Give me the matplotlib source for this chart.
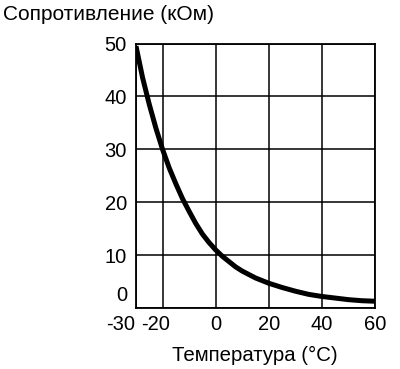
import numpy as np
import matplotlib.pyplot as plt
import matplotlib.transforms as mtransforms

# temperature (C) and resistance (kOhm)
temp = [-30, -27.5, -25, -22.5, -20, -17.5, -15, -12.5, -10, -7.5, -5, -2.5, 0, 2.5, 5, 7.5, 10,
        15, 20, 25, 30, 35, 40, 45, 50, 55, 60]
res = [49.5, 43.5, 38.5, 34.0, 30.0, 26.5, 23.5, 20.7, 18.3, 16.0, 14.0, 12.4, 11.0, 9.8, 8.8, 7.8, 7.0,
       5.7, 4.7, 3.9, 3.2, 2.6, 2.2, 1.9, 1.6, 1.4, 1.3]

xticks = [-30, -20, 0, 20, 40, 60]
yticks = [0, 10, 20, 30, 40, 50]

plt.rcParams['font.family'] = ['Liberation Sans', 'DejaVu Sans']

fig = plt.figure(figsize=(4.0, 3.69), dpi=100)
ax = fig.add_axes([0.34, 0.165, 0.5975, 0.717])

ax.plot(temp, res, color='black', lw=3.6, solid_capstyle='butt', solid_joinstyle='round')

ax.set_xlim(-30, 60)
ax.set_ylim(0, 50)
ax.set_xticks(xticks)
ax.set_yticks(yticks)
ax.set_xticklabels([str(v) for v in xticks], fontsize=14.5)
ax.set_yticklabels([str(v) for v in yticks], fontsize=14.5)
ax.tick_params(length=0, pad=5)
ax.tick_params(axis='y', pad=6.5)
ax.grid(True, color='black', lw=1.1)
for s in ax.spines.values():
    s.set_linewidth(1.3)

# shift some labels like in the original drawing
def shift(lbl, dx, dy):
    lbl.set_transform(lbl.get_transform() + mtransforms.ScaledTranslation(dx / 100, dy / 100, fig.dpi_scale_trans))

xl = ax.get_xticklabels()
shift(xl[0], -15, 0)
shift(xl[1], -7, 0)
shift(ax.get_yticklabels()[0], 0, 15)

fig.text(3 / 400, 1 - 15 / 369, 'Сопротивление (кОм)', fontsize=15, ha='left', va='center')
fig.text(255 / 400, 1 - 355 / 369, 'Температура (°C)', fontsize=14.7, ha='center', va='center')

fig.savefig('out.png', dpi=100)
